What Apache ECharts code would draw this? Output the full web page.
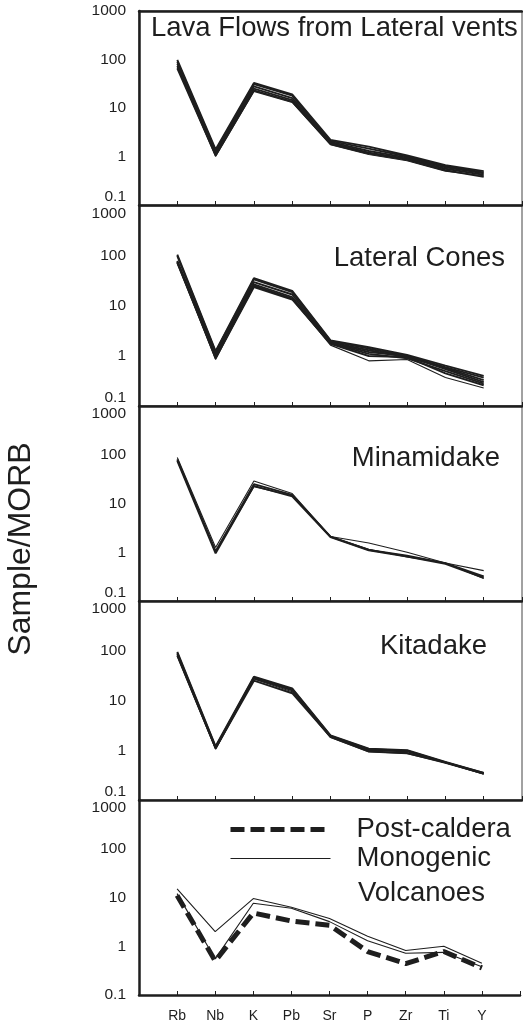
<!DOCTYPE html>
<html>
<head>
<meta charset="utf-8">
<script src="https://cdn.jsdelivr.net/npm/echarts@6/dist/echarts.min.js"></script>
<style>
  html, body { margin: 0; padding: 0; background: #fff; }
  #chart { width: 523px; height: 1023px; }
</style>
</head>
<body>
<div id="chart"></div>
<script>
// Trace elements normalised to MORB, plotted left to right
const elements = ['Rb', 'Nb', 'K', 'Pb', 'Sr', 'P', 'Zr', 'Ti', 'Y'];
const yTickLabels = [0.1, 1, 10, 100, 1000];
const panelTitles = ['Lava Flows from Lateral vents', 'Lateral Cones', 'Minamidake', 'Kitadake'];

// Lava flows from lateral vents
const lavaFlows = [
  [98, 1.40, 33, 19.0, 2.20, 1.60, 1.05, 0.66, 0.50],
  [90, 1.30, 31, 18.0, 2.10, 1.45, 1.00, 0.63, 0.47],
  [82, 1.20, 28, 16.0, 2.00, 1.30, 0.95, 0.60, 0.45],
  [74, 1.10, 25, 14.5, 1.90, 1.20, 0.90, 0.56, 0.42],
  [66, 1.05, 23, 13.5, 1.80, 1.15, 0.85, 0.52, 0.38],
  [70, 1.00, 22, 13.0, 1.75, 1.10, 0.82, 0.50, 0.40]
];

// Lateral cones
const lateralCones = [
  [107, 1.25, 36, 20.0, 2.05, 1.50, 1.05, 0.64, 0.40],
  [100, 1.20, 34, 19.0, 2.00, 1.40, 1.00, 0.60, 0.37],
  [80, 1.10, 30, 17.0, 1.90, 1.30, 0.95, 0.58, 0.33],
  [76, 1.00, 27, 15.0, 1.85, 1.20, 1.00, 0.55, 0.30],
  [73, 0.95, 25, 14.0, 1.80, 1.10, 0.90, 0.50, 0.28],
  [75, 0.90, 24, 13.5, 1.75, 1.00, 0.95, 0.45, 0.26],
  [78, 0.85, 26, 14.0, 1.65, 0.80, 0.85, 0.37, 0.23]
];

// Minamidake
const minamidake = [
  [88, 1.25, 29, 16.0, 2.10, 1.55, 1.00, 0.60, 0.42],
  [80, 1.05, 25, 15.0, 2.10, 1.12, 0.85, 0.60, 0.32],
  [75, 0.95, 23, 14.0, 2.05, 1.10, 0.82, 0.58, 0.30],
  [78, 1.00, 22, 14.5, 2.10, 1.15, 0.80, 0.60, 0.29]
];

// Kitadake
const kitadake = [
  [95, 1.20, 30, 17.5, 2.00, 1.08, 1.00, 0.58, 0.35],
  [90, 1.15, 29, 17.0, 1.95, 1.05, 0.98, 0.57, 0.35],
  [85, 1.10, 28, 16.0, 1.90, 1.00, 0.95, 0.57, 0.34],
  [80, 1.10, 25, 14.0, 1.85, 0.95, 0.88, 0.56, 0.34],
  [78, 1.05, 27, 15.0, 1.80, 0.92, 0.85, 0.56, 0.33]
];

// Post-caldera averages and monogenic volcanoes
const postCaldera = [11, 0.50, 4.8, 3.3, 2.7, 0.78, 0.44, 0.78, 0.36];
const monogenicA = [15, 2.00, 9.5, 6.3, 3.7, 1.60, 0.82, 1.00, 0.45];
const monogenicB = [12, 0.55, 7.6, 6.0, 3.2, 1.30, 0.72, 0.75, 0.38];

const FONT = 'Liberation Sans, Arial, Helvetica, sans-serif';
const INK = '#1e1e1e';

const gridTops = [11, 206, 406, 601, 800];
const gridHeights = [194, 200, 195, 199, 195];

const grids = [];
const xAxes = [];
const yAxes = [];
const series = [];

gridTops.forEach(function (top, g) {
  const last = g === gridTops.length - 1;
  grids.push({
    left: 139, right: 1, top: top, height: gridHeights[g],
    show: !last, borderColor: '#444', borderWidth: 1, backgroundColor: 'transparent'
  });
  xAxes.push({
    type: 'value', gridIndex: g, min: 0, max: 10, interval: 1,
    axisLine: { show: true, lineStyle: { color: INK, width: 2.5 } },
    axisTick: { show: true, inside: true, length: 4, lineStyle: { color: INK, width: 1 } },
    splitLine: { show: false },
    axisLabel: {
      show: last, margin: 14, fontSize: 14, fontFamily: FONT, color: INK,
      formatter: function (v) { return elements[v - 1] || ''; }
    }
  });
  if (g === 0) {
    xAxes.push({
      type: 'value', gridIndex: 0, position: 'top', min: 0, max: 10,
      axisLine: { show: true, lineStyle: { color: INK, width: 2.5 } },
      axisTick: { show: false }, axisLabel: { show: false }, splitLine: { show: false }
    });
  }
  const labelOpts = {
    fontSize: 15.5, fontFamily: FONT, color: INK, margin: 13,
    formatter: function (v) { return String(Number(Number(v).toPrecision(6))); }
  };
  if (!last) labelOpts.verticalAlignMinLabel = 'bottom';
  if (g > 0) labelOpts.verticalAlignMaxLabel = 'top';
  yAxes.push({
    type: 'log', logBase: 10, gridIndex: g,
    min: yTickLabels[0], max: yTickLabels[yTickLabels.length - 1],
    axisLine: { show: true, lineStyle: { color: INK, width: 2.5 } },
    axisTick: { show: false },
    splitLine: { show: false },
    axisLabel: labelOpts
  });
});

function xIndexFor(g) { return g === 0 ? 0 : g + 1; }

function addLine(values, g, name, lineStyle) {
  series.push({
    type: 'line', name: name,
    xAxisIndex: xIndexFor(g), yAxisIndex: g,
    data: values.map(function (v, i) { return [i + 1, v]; }),
    symbol: 'none', showSymbol: false, silent: true, animation: false,
    itemStyle: { color: INK },
    lineStyle: lineStyle
  });
}

const panelSets = [lavaFlows, lateralCones, minamidake, kitadake];
panelSets.forEach(function (set, g) {
  set.forEach(function (vals, k) {
    const thin = (k === set.length - 1) || (g === 2 && k === 0);
    addLine(vals, g, 'p' + g + '_' + k, { color: INK, width: thin ? 1.1 : 1.9 });
  });
});

addLine(monogenicA, 4, 'Monogenic', { color: INK, width: 1.1 });
addLine(monogenicB, 4, 'Monogenic', { color: INK, width: 1.1 });
addLine(postCaldera, 4, 'Post-caldera', { color: INK, width: 5, type: [14, 6] });

const titles = [
  { text: panelTitles[0], left: 151, top: 14 },
  { text: panelTitles[1], right: 18, top: 244 },
  { text: panelTitles[2], right: 23, top: 444 },
  { text: panelTitles[3], right: 36, top: 632 }
].map(function (t) {
  t.padding = 0;
  t.textStyle = { fontSize: 27.5, fontWeight: 'normal', fontFamily: FONT, color: INK };
  return t;
});

const chart = echarts.init(document.getElementById('chart'), null, { renderer: 'canvas' });
chart.setOption({
  backgroundColor: '#fff',
  animation: false,
  title: titles,
  grid: grids,
  xAxis: xAxes,
  yAxis: yAxes,
  legend: {
    data: ['Post-caldera', 'Monogenic'],
    orient: 'vertical', left: 228, top: 815,
    itemWidth: 100, itemHeight: 14, itemGap: 0,
    selectedMode: false, padding: 0,
    itemStyle: { opacity: 0 },
    lineStyle: { width: 'inherit', type: 'inherit', color: INK },
    textStyle: { fontSize: 27.5, fontFamily: FONT, color: INK, lineHeight: 29, padding: [0, 0, 0, 21] }
  },
  graphic: [
    {
      type: 'text', left: 358, top: 879,
      style: { text: 'Volcanoes', font: '27.5px ' + FONT, fill: INK }
    },
    {
      type: 'text', x: 21, y: 549, rotation: Math.PI / 2,
      style: { text: 'Sample/MORB', font: '32px ' + FONT, fill: INK, align: 'center', verticalAlign: 'middle' }
    }
  ],
  series: series
});
</script>
</body>
</html>
